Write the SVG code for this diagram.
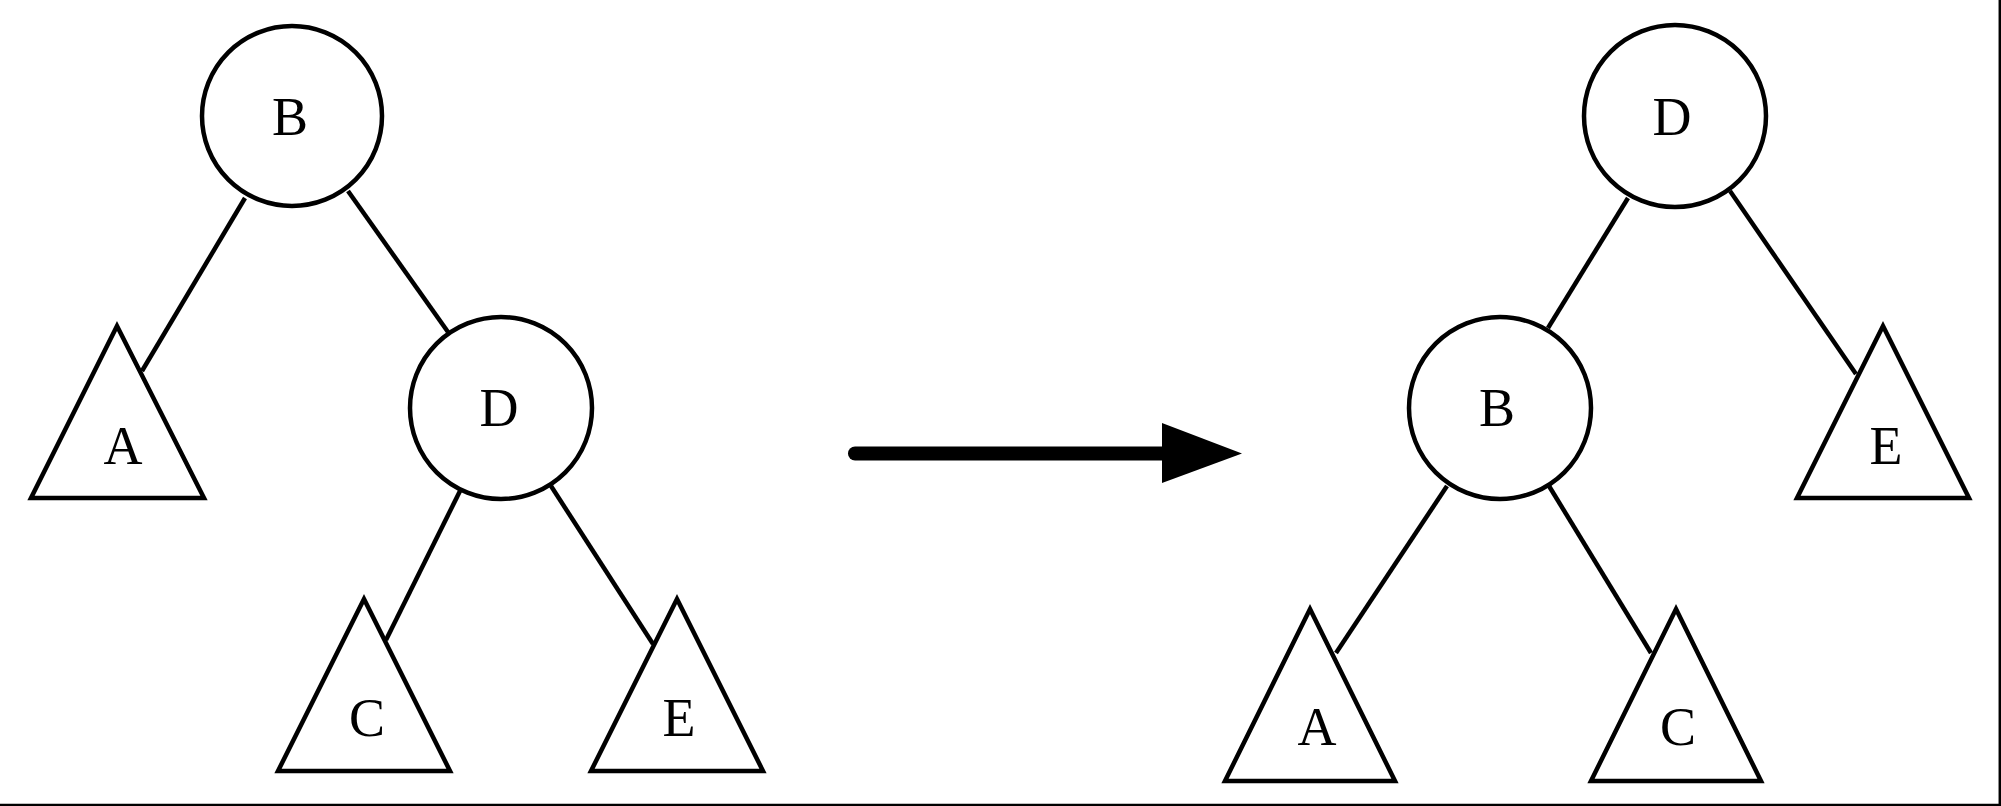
<svg xmlns="http://www.w3.org/2000/svg" width="2001" height="806" viewBox="0 0 2001 806">
<style>
.n{fill:#fff;stroke:#000;stroke-width:4.5}
.e{stroke:#000;stroke-width:4.5;fill:none}
.t{font-family:"Liberation Serif","Times New Roman",serif;font-size:54px;fill:#000;text-anchor:middle}
</style>
<rect x="0" y="0" width="2001" height="806" fill="#fff"/>
<line x1="0" y1="805" x2="2001" y2="805" stroke="#000" stroke-width="2.5"/>
<line x1="1999.8" y1="0" x2="1999.8" y2="806" stroke="#000" stroke-width="2.5"/>
<g id="connectors">
<line class="e" x1="245" y1="198" x2="142" y2="371"/>
<line class="e" x1="348" y1="191" x2="448" y2="332"/>
<line class="e" x1="460" y1="491" x2="386" y2="640"/>
<line class="e" x1="551" y1="486" x2="653" y2="644"/>
<line class="e" x1="1628" y1="198" x2="1548" y2="328"/>
<line class="e" x1="1730" y1="191" x2="1856" y2="374"/>
<line class="e" x1="1447" y1="486" x2="1336" y2="653"/>
<line class="e" x1="1549" y1="486" x2="1651" y2="653"/>
<g id="arrow">
<line x1="855" y1="453.5" x2="1165" y2="453.5" stroke="#000" stroke-width="14" stroke-linecap="round"/>
<polygon points="1162,423 1242,453.5 1162,483" fill="#000"/>
</g>
</g>
<g id="L_B"><circle class="n" cx="292" cy="116" r="90"/><text class="t" x="290" y="135">B</text></g>
<g id="L_D"><circle class="n" cx="501" cy="408" r="91"/><text class="t" x="499" y="426">D</text></g>
<g id="L_A"><polygon class="n" points="117,326 204,498 31,498"/><text class="t" x="123" y="464">A</text></g>
<g id="L_C"><polygon class="n" points="364,599 450,771 278,771"/><text class="t" x="367" y="736">C</text></g>
<g id="L_E"><polygon class="n" points="677,599 763,771 591,771"/><text class="t" x="679" y="736">E</text></g>
<g id="R_D"><circle class="n" cx="1675" cy="116" r="91"/><text class="t" x="1672" y="135">D</text></g>
<g id="R_B"><circle class="n" cx="1500" cy="408" r="91"/><text class="t" x="1497" y="426">B</text></g>
<g id="R_E"><polygon class="n" points="1883,326 1969,498 1797,498"/><text class="t" x="1886" y="464">E</text></g>
<g id="R_A"><polygon class="n" points="1310,609 1395,781 1225,781"/><text class="t" x="1317" y="745">A</text></g>
<g id="R_C"><polygon class="n" points="1676,609 1761,781 1591,781"/><text class="t" x="1678" y="745">C</text></g>
</svg>
